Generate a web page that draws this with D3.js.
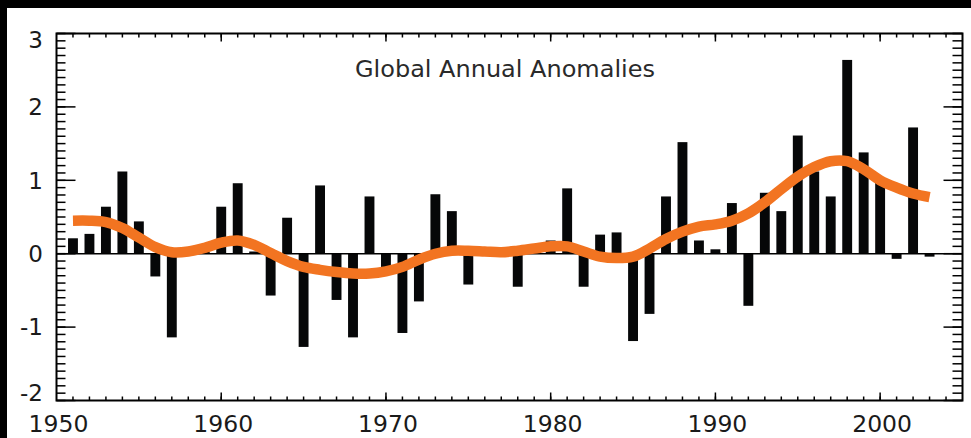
<!DOCTYPE html>
<html>
<head>
<meta charset="utf-8">
<script src="https://cdn.jsdelivr.net/npm/d3@7"></script>
<style>
  html, body { margin: 0; padding: 0; background: #000; }
  svg { display: block; }
</style>
</head>
<body>
<svg id="chart" width="971" height="438"></svg>
<script>
// ---- data ----
const title = "Global Annual Anomalies";
const years = [1951,1952,1953,1954,1955,1956,1957,1958,1959,1960,
  1961,1962,1963,1964,1965,1966,1967,1968,1969,1970,
  1971,1972,1973,1974,1975,1976,1977,1978,1979,1980,
  1981,1982,1983,1984,1985,1986,1987,1988,1989,1990,
  1991,1992,1993,1994,1995,1996,1997,1998,1999,2000,
  2001,2002,2003];
const anomalies = [0.21,0.27,0.64,1.12,0.44,-0.31,-1.14,0.06,0.03,0.64,
  0.96,0.03,-0.57,0.49,-1.27,0.93,-0.63,-1.14,0.78,-0.19,
  -1.08,-0.65,0.81,0.58,-0.42,0.02,0.02,-0.45,0.03,0.18,
  0.89,-0.45,0.26,0.29,-1.19,-0.82,0.78,1.52,0.18,0.06,
  0.69,-0.71,0.83,0.58,1.61,1.12,0.78,2.64,1.38,1.03,
  -0.07,1.72,-0.04];
const smoothed = [0.45,0.45,0.43,0.35,0.22,0.09,0.02,0.03,0.08,0.15,
  0.18,0.12,0.01,-0.10,-0.18,-0.22,-0.25,-0.27,-0.27,-0.24,
  -0.18,-0.08,0.00,0.04,0.04,0.03,0.02,0.04,0.07,0.10,
  0.10,0.03,-0.04,-0.06,-0.04,0.07,0.20,0.30,0.37,0.40,
  0.45,0.55,0.70,0.88,1.05,1.18,1.26,1.26,1.15,1.00,
  0.90,0.82,0.77];
const xTickLabels = [1950,1960,1970,1980,1990,2000];
const yTickLabels = [-2,-1,0,1,2,3];

// ---- layout ----
const svg = d3.select("#chart");
const L = 56.5, R = 962.5, T = 33.5, B = 400.5;
const x = d3.scaleLinear().domain([1950, 2005]).range([L, R]);
const y = d3.scaleLinear().domain([-2, 3]).range([B, T]);
const step = x(1951) - x(1950);
const barW = step * 0.6;

// white panel
svg.append("rect").attr("x", 7).attr("y", 8).attr("width", 971 - 7).attr("height", 438 - 8).attr("fill", "#fff");

// bars
svg.append("g").selectAll("rect").data(years).join("rect")
  .attr("x", (d) => x(d) - barW / 2)
  .attr("width", barW)
  .attr("y", (d, i) => Math.min(y(anomalies[i]), y(0)))
  .attr("height", (d, i) => Math.abs(y(anomalies[i]) - y(0)))
  .attr("fill", "#060708");

// zero line
svg.append("line").attr("x1", L).attr("x2", R).attr("y1", y(0)).attr("y2", y(0))
  .attr("stroke", "#000").attr("stroke-width", 1.5);

// smooth curve
const line = d3.line().x((d, i) => x(years[i])).y((d) => y(d)).curve(d3.curveCatmullRom.alpha(0.5));
svg.append("path").datum(smoothed).attr("d", line)
  .attr("fill", "none").attr("stroke", "#f27421").attr("stroke-width", 10.5)
  .attr("stroke-linecap", "butt").attr("stroke-linejoin", "round");

// ticks
const yMinor = d3.range(-20, 31).map(v => v / 10);
const yMajor = yTickLabels;
const xMinor = d3.range(1951, 2005);
const xMajor = xTickLabels.filter(v => v > 1950);
const tickG = svg.append("g").attr("stroke", "#000").attr("stroke-width", 1.5);
function hTicks(vals, x0, len) {
  tickG.append("g").selectAll("line").data(vals).join("line")
    .attr("x1", x0).attr("x2", x0 + len).attr("y1", d => y(d)).attr("y2", d => y(d));
}
function vTicks(vals, y0, len) {
  tickG.append("g").selectAll("line").data(vals).join("line")
    .attr("y1", y0).attr("y2", y0 + len).attr("x1", d => x(d)).attr("x2", d => x(d));
}
hTicks(yMinor, L, 9); hTicks(yMajor, L, 19);
hTicks(yMinor, R, -10); hTicks(yMajor, R, -19);
vTicks(xMinor, T, 4); vTicks(xMajor, T, 8);
vTicks(xMinor, B, -4); vTicks(xMajor, B, -8);

// frame
svg.append("rect").attr("x", L).attr("y", T).attr("width", R - L).attr("height", B - T)
  .attr("fill", "none").attr("stroke", "#000").attr("stroke-width", 2);

// labels
const font = "'DejaVu Sans', Verdana, sans-serif";
svg.append("g").selectAll("text").data(yTickLabels).join("text")
  .attr("x", 43).attr("y", d => y(d) + (d === 3 ? 6 : d === -2 ? -8 : 0))
  .attr("dy", "0.36em").attr("text-anchor", "end")
  .attr("font-family", font).attr("font-size", 23).attr("fill", "#1a1a1a")
  .text(d => d);
svg.append("g").selectAll("text").data(xTickLabels).join("text")
  .attr("x", d => x(d) + 2).attr("y", 432)
  .attr("text-anchor", "middle")
  .attr("font-family", font).attr("font-size", 23.5).attr("fill", "#1a1a1a")
  .text(d => d);
svg.append("text").attr("x", 505).attr("y", 77).attr("text-anchor", "middle")
  .attr("font-family", font).attr("font-size", 23).attr("fill", "#2a2a2a")
  .attr("textLength", 300).attr("lengthAdjust", "spacingAndGlyphs")
  .text(title);
</script>
</body>
</html>
